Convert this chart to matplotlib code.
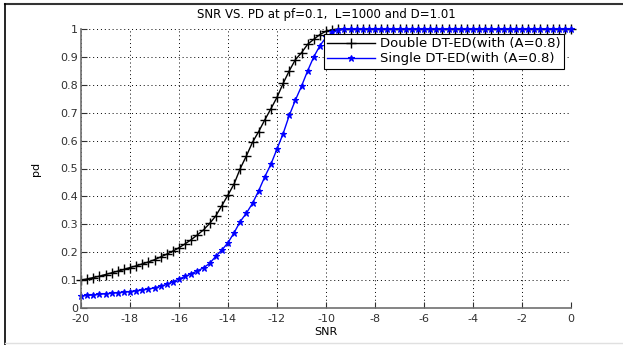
import matplotlib
matplotlib.use("Agg")
import matplotlib.pyplot as plt
from matplotlib.lines import Line2D
from matplotlib.ticker import FuncFormatter

plt.rcParams["font.family"] = ["DejaVu Sans"]
plt.rcParams["axes.unicode_minus"] = False

# SNR sampling (dB), step 0.25 from -20 to 0
snr = [-20 + 0.25 * i for i in range(81)]

# Double DT-ED (A=0.8)
pd_double = [
    0.100, 0.104, 0.109, 0.114, 0.120, 0.126, 0.132, 0.138,
    0.145, 0.151, 0.158, 0.165, 0.173, 0.183, 0.193, 0.204,
    0.216, 0.230, 0.245, 0.262, 0.280, 0.303, 0.330, 0.367,
    0.405, 0.445, 0.500, 0.545, 0.594, 0.632, 0.674, 0.714,
    0.755, 0.805, 0.850, 0.890, 0.915, 0.945, 0.963, 0.980,
    0.992, 0.997, 1.000, 1.000, 1.000, 1.000, 1.000, 1.000,
    1.000, 1.000, 1.000, 1.000, 1.000, 1.000, 1.000, 1.000,
    1.000, 1.000, 1.000, 1.000, 1.000, 1.000, 1.000, 1.000,
    1.000, 1.000, 1.000, 1.000, 1.000, 1.000, 1.000, 1.000,
    1.000, 1.000, 1.000, 1.000, 1.000, 1.000, 1.000, 1.000,
    1.000,
]

# Single DT-ED (A=0.8)
pd_single = [
    0.043, 0.045, 0.047, 0.049, 0.051, 0.053, 0.055, 0.057,
    0.059, 0.062, 0.065, 0.068, 0.072, 0.078, 0.085, 0.094,
    0.104, 0.113, 0.123, 0.133, 0.144, 0.160, 0.185, 0.208,
    0.234, 0.270, 0.310, 0.340, 0.375, 0.420, 0.470, 0.515,
    0.570, 0.625, 0.690, 0.745, 0.795, 0.850, 0.900, 0.940,
    0.970, 0.988, 0.996, 1.000, 1.000, 1.000, 1.000, 1.000,
    1.000, 1.000, 1.000, 1.000, 1.000, 1.000, 1.000, 1.000,
    1.000, 1.000, 1.000, 1.000, 1.000, 1.000, 1.000, 1.000,
    1.000, 1.000, 1.000, 1.000, 1.000, 1.000, 1.000, 1.000,
    1.000, 1.000, 1.000, 1.000, 1.000, 1.000, 1.000, 1.000,
    1.000,
]

x_ticks = list(range(-20, 1, 2))
y_ticks = [0, 0.1, 0.2, 0.3, 0.4, 0.5, 0.6, 0.7, 0.8, 0.9, 1.0]

W, H = 623, 345
fig = plt.figure(figsize=(W / 100, H / 100), dpi=100)
fig.patch.set_facecolor("white")

# screenshot frame: dark top/left edge, faint bottom edge
fig.add_artist(Line2D([5 / W, 1], [1 - 4 / H, 1 - 4 / H], color="#333333", lw=1.5))
fig.add_artist(Line2D([5 / W, 5 / W], [0, 1 - 4 / H], color="black", lw=1.2))
fig.add_artist(Line2D([5 / W, 1], [2 / H, 2 / H], color="#e0e0e0", lw=1.0))

ax = fig.add_axes([81 / W, 1 - 308 / H, 490 / W, 279 / H])
ax.plot(snr, pd_double, "-", color="black", marker="+", markersize=7,
        markeredgewidth=1.0, linewidth=1.0, label="Double DT-ED(with (A=0.8)",
        clip_on=False)
ax.plot(snr, pd_single, "-", color="blue", marker="*", markersize=5,
        markeredgewidth=0.8, linewidth=1.0, label="Single DT-ED(with (A=0.8)",
        clip_on=False)

ax.set_xlim(-20, 0)
ax.set_ylim(0, 1)
ax.set_xticks(x_ticks)
ax.set_yticks(y_ticks)
ax.yaxis.set_major_formatter(FuncFormatter(lambda v, p: f"{v:g}"))
ax.grid(True, color="black", linestyle=(0, (1, 3)), linewidth=0.7)
ax.tick_params(axis="both", direction="in", labelsize=8, length=4,
               colors="#303030", top=False, right=False)
ax.tick_params(axis="x", pad=4.5)
ax.tick_params(axis="y", pad=2)
for s in ["top", "right"]:
    ax.spines[s].set_visible(False)
for s in ["left", "bottom"]:
    ax.spines[s].set_color("#707070")
    ax.spines[s].set_linewidth(1.2)

ax.set_title("SNR VS. PD at pf=0.1,  L=1000 and D=1.01", fontsize=8.5, pad=8)
ax.set_xlabel("SNR", fontsize=8, labelpad=2)
ax.set_ylabel("pd", fontsize=8, labelpad=14)

leg = ax.legend(loc="upper right", bbox_to_anchor=(0.986, 0.982), fontsize=9.5,
                fancybox=False, framealpha=1, edgecolor="black",
                handlelength=3.6, borderpad=0.25, labelspacing=0.15,
                handletextpad=0.4, borderaxespad=0)
leg.get_frame().set_linewidth(0.8)

plt.savefig("out.png", dpi=100, facecolor="white")
plt.close()
